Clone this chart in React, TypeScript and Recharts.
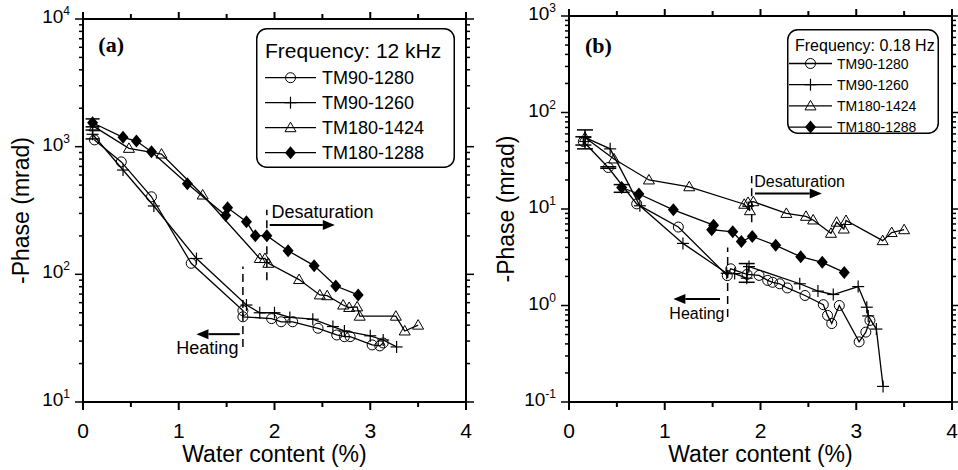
import React from "react"
import {
  LineChart,
  Line,
  XAxis,
  YAxis,
  ErrorBar,
  ReferenceLine,
  ReferenceDot,
  Legend,
} from "recharts"

type Pt = { x: number; y: number; err?: [number, number] }
type Kind = "circle" | "plus" | "triangle" | "diamond"

const FONT = '"Liberation Sans", Arial, Helvetica, sans-serif'

// shared names / ticks
const seriesNames = ["TM90-1280", "TM90-1260", "TM180-1424", "TM180-1288"]
const seriesKinds: Kind[] = ["circle", "plus", "triangle", "diamond"]
const xTicks = [0, 0.5, 1, 1.5, 2, 2.5, 3, 3.5, 4]
const decadesA = [10, 100, 1000, 10000]
const decadesB = [0.1, 1, 10, 100, 1000]

// ---- panel (a), 12 kHz ----
const a_tm90_1280: Pt[] = [
  { x: 0.12, y: 1130 }, { x: 0.4, y: 760 }, { x: 0.715, y: 405 }, { x: 1.13, y: 122 },
  { x: 1.67, y: 52 }, { x: 1.67, y: 46.5 }, { x: 1.97, y: 45 }, { x: 2.07, y: 42.5 },
  { x: 2.19, y: 42.5 }, { x: 2.455, y: 37.8 }, { x: 2.65, y: 33.5 }, { x: 2.73, y: 32.5 },
  { x: 2.79, y: 32.5 }, { x: 3.02, y: 28 }, { x: 3.1, y: 27.5 }, { x: 3.135, y: 29 },
]
const a_tm90_1260: Pt[] = [
  { x: 0.1, y: 1250 }, { x: 0.418, y: 656 }, { x: 0.74, y: 343 }, { x: 1.185, y: 133 },
  { x: 1.707, y: 57.5 }, { x: 1.846, y: 50 }, { x: 2.0, y: 50 }, { x: 2.16, y: 46 },
  { x: 2.4, y: 44.5 }, { x: 2.61, y: 39 }, { x: 2.73, y: 36 }, { x: 3.0, y: 33 },
  { x: 3.135, y: 30.6 }, { x: 3.275, y: 27 },
]
const a_tm180_1424: Pt[] = [
  { x: 0.12, y: 1430 }, { x: 0.48, y: 970 }, { x: 0.82, y: 875 }, { x: 1.25, y: 418 },
  { x: 1.846, y: 133 }, { x: 1.9, y: 133 }, { x: 1.936, y: 122 }, { x: 2.257, y: 91 },
  { x: 2.473, y: 69 }, { x: 2.55, y: 68 }, { x: 2.717, y: 57.5 }, { x: 2.78, y: 55 },
  { x: 2.863, y: 55.6 }, { x: 2.89, y: 47 }, { x: 3.267, y: 47 }, { x: 3.36, y: 36 },
  { x: 3.5, y: 40 },
]
const a_tm180_1288: Pt[] = [
  { x: 0.1, y: 1540 }, { x: 0.418, y: 1183 }, { x: 0.558, y: 1107 }, { x: 0.715, y: 912 },
  { x: 1.09, y: 512 }, { x: 1.49, y: 289 }, { x: 1.51, y: 332 }, { x: 1.707, y: 258 },
  { x: 1.8, y: 201 }, { x: 1.92, y: 201 }, { x: 2.142, y: 153 }, { x: 2.414, y: 117 },
  { x: 2.64, y: 81 }, { x: 2.874, y: 69 },
]
const a_errors: Pt[] = [
  { x: 0.1, y: 1540, err: [110, 110] },
  { x: 0.1, y: 1250, err: [100, 100] },
]

// ---- panel (b), 0.18 Hz ----
const b_tm90_1280: Pt[] = [
  { x: 0.15, y: 50 }, { x: 0.41, y: 26.9 }, { x: 0.707, y: 11.3 }, { x: 1.142, y: 6.5 },
  { x: 1.653, y: 2.04 }, { x: 1.69, y: 2.4 }, { x: 1.86, y: 2.1 }, { x: 1.985, y: 2.05 },
  { x: 2.075, y: 1.82 }, { x: 2.127, y: 1.74 }, { x: 2.2, y: 1.68 }, { x: 2.28, y: 1.52 },
  { x: 2.465, y: 1.27 }, { x: 2.656, y: 1.02 }, { x: 2.7, y: 0.79 }, { x: 2.744, y: 0.65 },
  { x: 2.823, y: 1.0 }, { x: 3.03, y: 0.42 }, { x: 3.1, y: 0.53 }, { x: 3.143, y: 0.7 },
]
const b_tm90_1260: Pt[] = [
  { x: 0.17, y: 55 }, { x: 0.43, y: 42 }, { x: 0.74, y: 10.8 }, { x: 1.19, y: 4.4 },
  { x: 1.647, y: 2.16 }, { x: 1.73, y: 2.14 }, { x: 1.856, y: 1.92 }, { x: 1.88, y: 2.53 },
  { x: 2.41, y: 1.68 }, { x: 2.6, y: 1.41 }, { x: 2.76, y: 1.3 }, { x: 3.02, y: 1.57 },
  { x: 3.11, y: 0.96 }, { x: 3.125, y: 0.78 }, { x: 3.21, y: 0.57 }, { x: 3.28, y: 0.145 },
]
const b_tm180_1424: Pt[] = [
  { x: 0.167, y: 55 }, { x: 0.47, y: 33 }, { x: 0.835, y: 20 }, { x: 1.256, y: 17 },
  { x: 1.83, y: 11.2 }, { x: 1.89, y: 9.6 }, { x: 1.87, y: 11.7 }, { x: 1.925, y: 11.9 },
  { x: 2.27, y: 9.0 }, { x: 2.475, y: 8.4 }, { x: 2.55, y: 7.7 }, { x: 2.736, y: 5.6 },
  { x: 2.795, y: 7.3 }, { x: 2.87, y: 6.2 }, { x: 2.893, y: 7.6 }, { x: 3.276, y: 4.7 },
  { x: 3.37, y: 5.7 }, { x: 3.5, y: 6.1 },
]
const b_tm180_1288: Pt[] = [
  { x: 0.55, y: 16.7 }, { x: 0.73, y: 14.3 }, { x: 1.09, y: 9.8 }, { x: 1.51, y: 6.8 },
  { x: 1.49, y: 6.1 }, { x: 1.71, y: 5.8 }, { x: 1.8, y: 4.6 }, { x: 1.914, y: 5.2 },
  { x: 2.159, y: 4.2 }, { x: 2.42, y: 3.2 }, { x: 2.645, y: 2.8 }, { x: 2.875, y: 2.2 },
]
const b_errors: Pt[] = [
  { x: 0.167, y: 55, err: [13, 11] },
  { x: 0.15, y: 50, err: [4, 6] },
  { x: 0.41, y: 26.9, err: [0.5, 0.5] },
  { x: 0.55, y: 16.7, err: [1.8, 1.2] },
  { x: 1.856, y: 1.92, err: [0.18, 0.8] },
]

// annotations (data coordinates)
const a_dashed = [
  { x: 1.67, y1: 27, y2: 115 },
  { x: 1.92, y1: 90, y2: 320 },
]
const a_arrows = [
  { x1: 1.95, x2: 2.63, y: 243 },
  { x1: 1.637, x2: 1.185, y: 34 },
]
const a_notes = [
  { x: 1.969, y: 276, text: "Desaturation" },
  { x: 0.975, y: 23.8, text: "Heating" },
]
const b_dashed = [
  { x: 1.657, y1: 0.76, y2: 4.0 },
  { x: 1.908, y1: 7.3, y2: 22 },
]
const b_arrows = [
  { x1: 1.943, x2: 2.64, y: 14.5 },
  { x1: 1.577, x2: 1.09, y: 1.17 },
]
const b_notes = [
  { x: 1.935, y: 17, text: "Desaturation" },
  { x: 1.048, y: 0.73, text: "Heating" },
]

function logTicks(decades: number[]) {
  const out: number[] = []
  decades.forEach((d, i) => {
    out.push(d)
    if (i < decades.length - 1) {
      for (let m = 2; m <= 9; m++) out.push(+(d * m).toPrecision(3))
    }
  })
  return out
}

function Marker({ kind, cx, cy, s = 1 }: { kind: Kind; cx: number; cy: number; s?: number }) {
  if (kind === "circle")
    return <circle cx={cx} cy={cy} r={5 * s} fill="none" stroke="#000" strokeWidth={1} />
  if (kind === "plus")
    return (
      <g stroke="#000" strokeWidth={1.2}>
        <line x1={cx - 6 * s} x2={cx + 6 * s} y1={cy} y2={cy} />
        <line x1={cx} x2={cx} y1={cy - 6 * s} y2={cy + 6 * s} />
      </g>
    )
  if (kind === "triangle")
    return (
      <polygon
        points={`${cx},${cy - 5.5 * s} ${cx - 5.5 * s},${cy + 4 * s} ${cx + 5.5 * s},${cy + 4 * s}`}
        fill="none"
        stroke="#000"
        strokeWidth={1}
      />
    )
  return (
    <polygon
      points={`${cx},${cy - 6.5 * s} ${cx + 5.5 * s},${cy} ${cx},${cy + 6.5 * s} ${cx - 5.5 * s},${cy}`}
      fill="#000"
    />
  )
}

const BottomTick = (p: any) => {
  const v = p.payload.value
  const major = Number.isInteger(v)
  return (
    <g>
      <line x1={p.x} x2={p.x} y1={p.y} y2={p.y + (major ? 8 : 5)} stroke="#000" strokeWidth={2} />
      {major && (
        <text x={p.x} y={p.y + 36} textAnchor="middle" fontSize={21} fontFamily={FONT} fill="#000">
          {v}
        </text>
      )}
    </g>
  )
}

const TopTick = (p: any) => {
  const major = Number.isInteger(p.payload.value)
  return <line x1={p.x} x2={p.x} y1={p.y} y2={p.y - (major ? 7 : 5)} stroke="#000" strokeWidth={2} />
}

const leftTick = (decades: number[]) => (p: any) => {
  const v = p.payload.value
  const major = decades.includes(v)
  const e = Math.round(Math.log10(v))
  return (
    <g>
      <line x1={p.x} x2={p.x - (major ? 8 : 4)} y1={p.y} y2={p.y} stroke="#000" strokeWidth={1.5} />
      {major && (
        <text x={p.x - 13} y={p.y + 4} textAnchor="end" fontSize={19} fontFamily={FONT} fill="#000">
          10
          <tspan dy={-8} fontSize={12}>
            {e}
          </tspan>
        </text>
      )}
    </g>
  )
}

const rightTick = (decades: number[]) => (p: any) => {
  const major = decades.includes(p.payload.value)
  return <line x1={p.x} x2={p.x + (major ? 8 : 4)} y1={p.y} y2={p.y} stroke="#000" strokeWidth={1.5} />
}

const Arrow = (p: any) => {
  const { x1, y1, x2, y2 } = p
  const dir = Math.sign(x2 - x1)
  const hl = 12
  const hw = 5
  return (
    <g>
      <line x1={x1} y1={y1} x2={x2 - dir * hl} y2={y2} stroke="#000" strokeWidth={2} />
      <polygon points={`${x2},${y2} ${x2 - dir * hl},${y2 - hw} ${x2 - dir * hl},${y2 + hw}`} fill="#000" />
    </g>
  )
}

interface LegendCfg {
  left: number
  top: number
  w: number
  h: number
  header: string
  headerSize: number
  headerX: number
  headerY: number
  entrySize: number
  row0: number
  rowGap: number
  lineX0: number
  lineX1: number
  textX: number
}

function LegendBox({ cfg }: { cfg: LegendCfg }) {
  return (
    <svg width={cfg.w} height={cfg.h} style={{ display: "block" }}>
      <rect x={0.75} y={0.75} width={cfg.w - 1.5} height={cfg.h - 1.5} rx={10} fill="#fff" stroke="#000" strokeWidth={1.5} />
      <text x={cfg.headerX} y={cfg.headerY} fontSize={cfg.headerSize} fontFamily={FONT} fill="#000">
        {cfg.header}
      </text>
      {seriesNames.map((n, i) => {
        const cy = cfg.row0 + i * cfg.rowGap
        return (
          <g key={n}>
            <line x1={cfg.lineX0} x2={cfg.lineX1} y1={cy} y2={cy} stroke="#000" strokeWidth={1.3} />
            <Marker kind={seriesKinds[i]} cx={(cfg.lineX0 + cfg.lineX1) / 2} cy={cy} />
            <text x={cfg.textX} y={cy + cfg.entrySize * 0.36} fontSize={cfg.entrySize} fontFamily={FONT} fill="#000">
              {n}
            </text>
          </g>
        )
      })}
    </svg>
  )
}

interface PanelProps {
  series: Pt[][]
  errors: Pt[]
  decades: number[]
  leftW: number
  rightW: number
  topH: number
  tag: string
  tagAt: { x: number; y: number }
  dashed: { x: number; y1: number; y2: number }[]
  arrows: { x1: number; x2: number; y: number }[]
  notes: { x: number; y: number; text: string }[]
  noteSize: number
  errWidth: number
  legend: LegendCfg
  yLabelOffset: number
}

const axisLine = { stroke: "#000", strokeWidth: 2 }

function Panel(p: PanelProps) {
  const yDomain: [number, number] = [p.decades[0], p.decades[p.decades.length - 1]]
  const yTicks = logTicks(p.decades)
  return (
    <LineChart width={479} height={470} margin={{ top: 0, right: 0, bottom: 0, left: 0 }} style={{ fontFamily: FONT }}>
      <XAxis
        xAxisId="bottom"
        dataKey="x"
        type="number"
        domain={[0, 4]}
        allowDataOverflow
        ticks={xTicks}
        interval={0}
        tick={BottomTick}
        tickSize={0}
        tickMargin={0}
        tickLine={false}
        axisLine={axisLine}
        height={68}
        label={{
          value: "Water content (%)",
          position: "insideBottom",
          offset: 8,
          fill: "#000",
          style: { fontSize: 23, fill: "#000", fontFamily: FONT },
        }}
      />
      <XAxis
        xAxisId="top"
        orientation="top"
        dataKey="x"
        type="number"
        domain={[0, 4]}
        allowDataOverflow
        ticks={xTicks}
        interval={0}
        tick={TopTick}
        tickSize={0}
        tickMargin={0}
        tickLine={false}
        axisLine={axisLine}
        height={p.topH}
      />
      <YAxis
        yAxisId="left"
        type="number"
        scale="log"
        domain={yDomain}
        allowDataOverflow
        ticks={yTicks}
        interval={0}
        tick={leftTick(p.decades)}
        tickSize={0}
        tickMargin={0}
        tickLine={false}
        axisLine={axisLine}
        width={p.leftW}
        label={{
          value: "-Phase (mrad)",
          angle: -90,
          position: "insideLeft",
          offset: p.yLabelOffset,
          fill: "#000",
          style: { textAnchor: "middle", fontSize: 23, fill: "#000", fontFamily: FONT },
        }}
      />
      <YAxis
        yAxisId="right"
        orientation="right"
        type="number"
        scale="log"
        domain={yDomain}
        allowDataOverflow
        ticks={yTicks}
        interval={0}
        tick={rightTick(p.decades)}
        tickSize={0}
        tickMargin={0}
        tickLine={false}
        axisLine={axisLine}
        width={p.rightW}
      />

      {p.dashed.map((d, i) => (
        <ReferenceLine
          key={`d${i}`}
          xAxisId="bottom"
          yAxisId="left"
          segment={[{ x: d.x, y: d.y1 }, { x: d.x, y: d.y2 }]}
          stroke="#000"
          strokeWidth={1.5}
          strokeDasharray="8 5"
        />
      ))}

      {p.series.map((data, i) => (
        <Line
          key={seriesNames[i]}
          xAxisId="bottom"
          yAxisId="left"
          data={data}
          dataKey="y"
          name={seriesNames[i]}
          type="linear"
          stroke="#000"
          strokeWidth={1.3}
          legendType="none"
          isAnimationActive={false}
          dot={(d: any) => <Marker key={`m${i}-${d.index}`} kind={seriesKinds[i]} cx={d.cx} cy={d.cy} />}
        />
      ))}

      <Line
        xAxisId="bottom"
        yAxisId="left"
        data={p.errors}
        dataKey="y"
        stroke="none"
        dot={false}
        legendType="none"
        isAnimationActive={false}
      >
        <ErrorBar dataKey="err" direction="y" width={p.errWidth} stroke="#000" strokeWidth={1.5} />
      </Line>

      {p.arrows.map((a, i) => (
        <ReferenceLine
          key={`a${i}`}
          xAxisId="bottom"
          yAxisId="left"
          segment={[{ x: a.x1, y: a.y }, { x: a.x2, y: a.y }]}
          shape={Arrow}
        />
      ))}

      {p.notes.map((n, i) => (
        <ReferenceDot
          key={`n${i}`}
          xAxisId="bottom"
          yAxisId="left"
          x={n.x}
          y={n.y}
          shape={(s: any) => (
            <text x={s.cx} y={s.cy} fontSize={p.noteSize} fontFamily={FONT} fill="#000">
              {n.text}
            </text>
          )}
        />
      ))}

      <ReferenceDot
        xAxisId="bottom"
        yAxisId="left"
        x={p.tagAt.x}
        y={p.tagAt.y}
        shape={(s: any) => (
          <text x={s.cx} y={s.cy} fontSize={22} fontWeight="bold" fontFamily='"Liberation Serif", "Times New Roman", serif' fill="#000">
            {p.tag}
          </text>
        )}
      />

      <Legend
        layout="horizontal"
        verticalAlign="middle"
        align="center"
        wrapperStyle={{ position: "absolute", left: p.legend.left, top: p.legend.top, width: p.legend.w, height: p.legend.h }}
        content={() => <LegendBox cfg={p.legend} />}
      />
    </LineChart>
  )
}

const legendA: LegendCfg = {
  left: 256, top: 28, w: 199, h: 140,
  header: "Frequency: 12 kHz", headerSize: 21, headerX: 9, headerY: 30,
  entrySize: 18, row0: 49.7, rowGap: 25, lineX0: 9, lineX1: 60, textX: 66,
}
const legendB: LegendCfg = {
  left: 308, top: 29, w: 152, h: 105,
  header: "Frequency: 0.18 Hz", headerSize: 16, headerX: 8, headerY: 21.5,
  entrySize: 14, row0: 34.5, rowGap: 21.2, lineX0: 2, lineX1: 45, textX: 50,
}

export default function App() {
  return (
    <div style={{ position: "absolute", left: 0, top: 0, width: 958, height: 470, background: "#fff" }}>
      <div style={{ position: "absolute", left: 0, top: 0 }}>
        <Panel
          series={[a_tm90_1280, a_tm90_1260, a_tm180_1424, a_tm180_1288]}
          errors={a_errors}
          decades={decadesA}
          leftW={83}
          rightW={13}
          topH={19}
          tag="(a)"
          tagAt={{ x: 0.16, y: 5500 }}
          dashed={a_dashed}
          arrows={a_arrows}
          notes={a_notes}
          noteSize={18}
          errWidth={7}
          legend={legendA}
          yLabelOffset={21}
        />
      </div>
      <div style={{ position: "absolute", left: 479, top: 0 }}>
        <Panel
          series={[b_tm90_1280, b_tm90_1260, b_tm180_1424, b_tm180_1288]}
          errors={b_errors}
          decades={decadesB}
          leftW={90}
          rightW={6}
          topH={16}
          tag="(b)"
          tagAt={{ x: 0.167, y: 413 }}
          dashed={b_dashed}
          arrows={b_arrows}
          notes={b_notes}
          noteSize={16}
          errWidth={8}
          legend={legendB}
          yLabelOffset={27}
        />
      </div>
    </div>
  )
}
